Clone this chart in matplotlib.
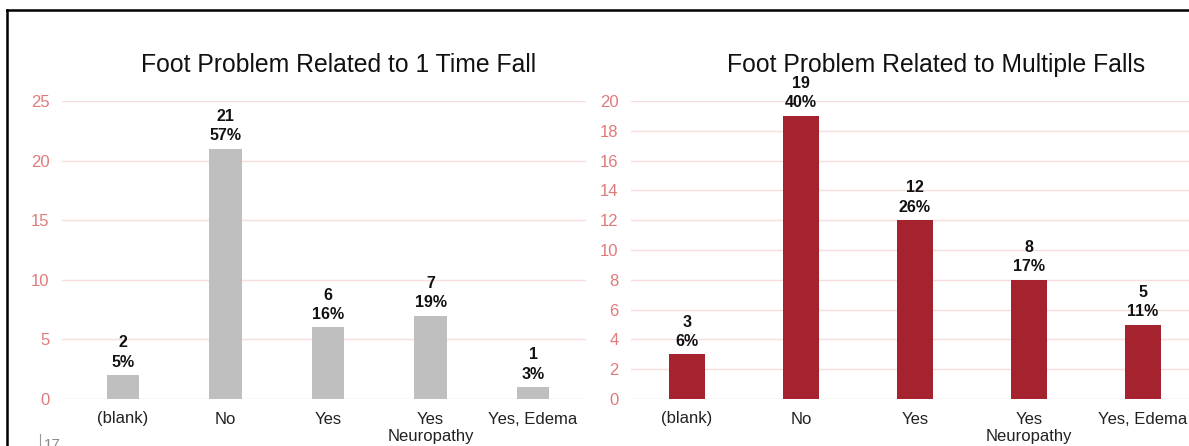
import matplotlib.pyplot as plt
from matplotlib.lines import Line2D

plt.rcParams['font.family'] = ['Liberation Sans', 'DejaVu Sans']

categories = ['(blank)', 'No', 'Yes', 'Yes\nNeuropathy', 'Yes, Edema']
one_fall = [2, 21, 6, 7, 1]
multi_falls = [3, 19, 12, 8, 5]

GRAY = '#BFBFBF'
RED = '#A5232F'
TICK_COLOR = '#E07A7A'
GRID_COLOR = '#F9DDDD'

W, H = 1189, 446
fig = plt.figure(figsize=(W / 100, H / 100), dpi=100)


def px_axes(left, right, top, bottom):
    return fig.add_axes([left / W, 1 - bottom / H, (right - left) / W, (bottom - top) / H])


def bar_panel(ax, counts, color, title, ymax, ystep, xlim, width):
    total = sum(counts)
    x = range(len(counts))
    bars = ax.bar(x, counts, width=width, color=color, zorder=2)
    for b, c in zip(bars, counts):
        pct = round(100 * c / total)
        ax.annotate(f'{c}\n{pct}%', (b.get_x() + b.get_width() / 2, c),
                    xytext=(0, 4), textcoords='offset points',
                    ha='center', va='bottom', fontsize=11.5, fontweight='bold',
                    linespacing=1.35, color='#111111')
    ax.set_xlim(*xlim)
    ax.set_ylim(0, ymax)
    ax.set_yticks(range(0, ymax + 1, ystep))
    ax.set_xticks(list(x))
    ax.set_xticklabels(categories, fontsize=12, color='#222222', linespacing=1.25)
    ax.tick_params(axis='y', colors=TICK_COLOR, labelsize=12, length=0, pad=9)
    ax.tick_params(axis='x', length=0, pad=9)
    ax.grid(axis='y', color=GRID_COLOR, linewidth=1, zorder=0)
    for s in ax.spines.values():
        s.set_visible(False)
    ax.set_title(title, fontsize=17.8, color='#111111', pad=21)


ax1 = px_axes(62, 586, 101, 399)
bar_panel(ax1, one_fall, GRAY, 'Foot Problem Related to 1 Time Fall',
          25, 5, (-0.595, 4.517), 0.32)
ax1.title.set_position((0.528, 1.0))

ax2 = px_axes(631, 1200, 101, 399)
bar_panel(ax2, multi_falls, RED, 'Foot Problem Related to Multiple Falls',
          20, 2, (-0.49, 4.5), 0.316)
ax2.title.set_position((0.536, 1.0))

# outer frame (top and left edges)
fig.add_artist(Line2D([7 / W, 1], [1 - 10 / H, 1 - 10 / H], color='black', lw=1.8))
fig.add_artist(Line2D([7 / W, 7 / W], [0, 1 - 10 / H], color='black', lw=1.8))
fig.add_artist(Line2D([40 / W, 40 / W], [0, 1 - 434 / H], color='#999999', lw=0.8))
fig.text(44 / W, 1 - 438 / H, '17', fontsize=11, color='#888888', va='top')

fig.savefig('out.png', dpi=100)
